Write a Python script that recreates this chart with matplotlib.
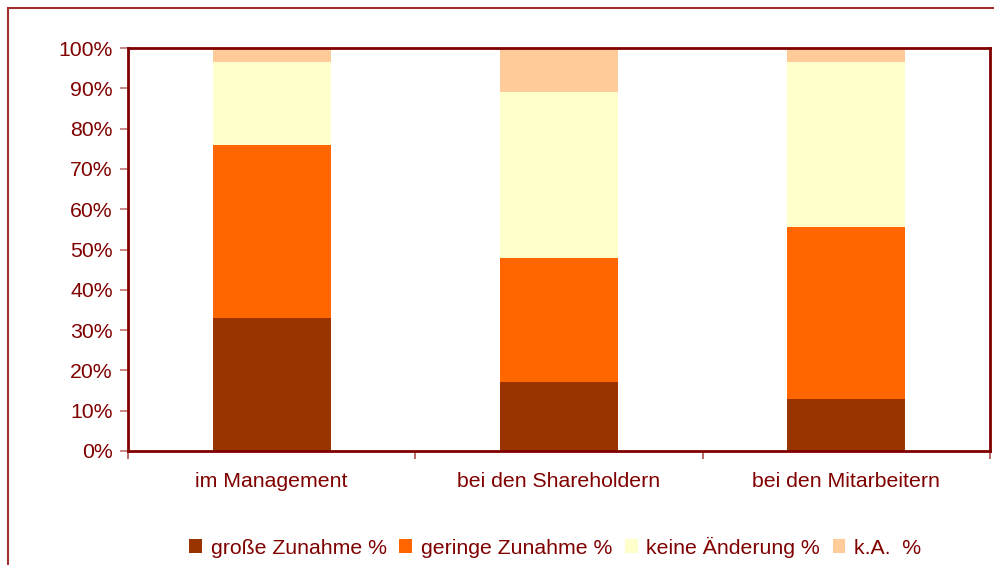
import matplotlib
matplotlib.use("Agg")
import matplotlib.pyplot as plt
from matplotlib.patches import Rectangle
from matplotlib.ticker import FixedLocator, PercentFormatter

plt.rcParams["font.family"] = ["Liberation Sans", "DejaVu Sans"]

categories = ["im Management", "bei den Shareholdern", "bei den Mitarbeitern"]
series_names = ["große Zunahme %", "geringe Zunahme %", "keine Änderung %", "k.A.  %"]
grosse = [33, 17, 13]
geringe = [43, 31, 42.5]
keine = [20.5, 41, 41]
ka = [3.5, 11, 3.5]

colors = ["#993300", "#FF6600", "#FFFFCC", "#FFCC99"]
text_color = "#800000"

fig = plt.figure(figsize=(9.95, 5.65), dpi=100)
ax = fig.add_axes([0.1286, 0.2018, 0.8664, 0.7132])

x = list(range(len(categories)))
bottom = [0.0] * len(categories)
for name, vals, c in zip(series_names, [grosse, geringe, keine, ka], colors):
    ax.bar(x, vals, width=0.41, bottom=bottom, color=c, label=name, linewidth=0)
    bottom = [b + v for b, v in zip(bottom, vals)]

ax.set_xlim(-0.5, 2.5)
ax.set_ylim(0, 100)
ax.set_yticks(range(0, 101, 10))
ax.yaxis.set_major_formatter(PercentFormatter(decimals=0))
ax.set_xticks(x)
ax.set_xticklabels(categories)
ax.xaxis.set_minor_locator(FixedLocator([-0.5, 0.5, 1.5, 2.5]))
ax.tick_params(axis="x", which="major", length=0, pad=15, labelsize=15.3, labelcolor=text_color)
ax.tick_params(axis="x", which="minor", length=6, width=1.2, color="#b05050")
ax.tick_params(axis="y", length=6, width=1.2, color="#c07070", labelsize=15.3,
               labelcolor=text_color, pad=5)

for s in ax.spines.values():
    s.set_color(text_color)
    s.set_linewidth(2)

fig.legend(loc="center", bbox_to_anchor=(0.558, 1 - 547 / 565), ncol=4, frameon=False,
           fontsize=15.3, labelcolor=text_color, handlelength=0.6, handleheight=0.6,
           handletextpad=0.4, columnspacing=0.6)

# outer chart border
fig.patches.append(Rectangle((8 / 995, -0.1), 1.2, 1 - 8 / 565 + 0.1, transform=fig.transFigure,
                             fill=False, edgecolor="#a03030", linewidth=1.5))

fig.savefig("out.png", dpi=100)
